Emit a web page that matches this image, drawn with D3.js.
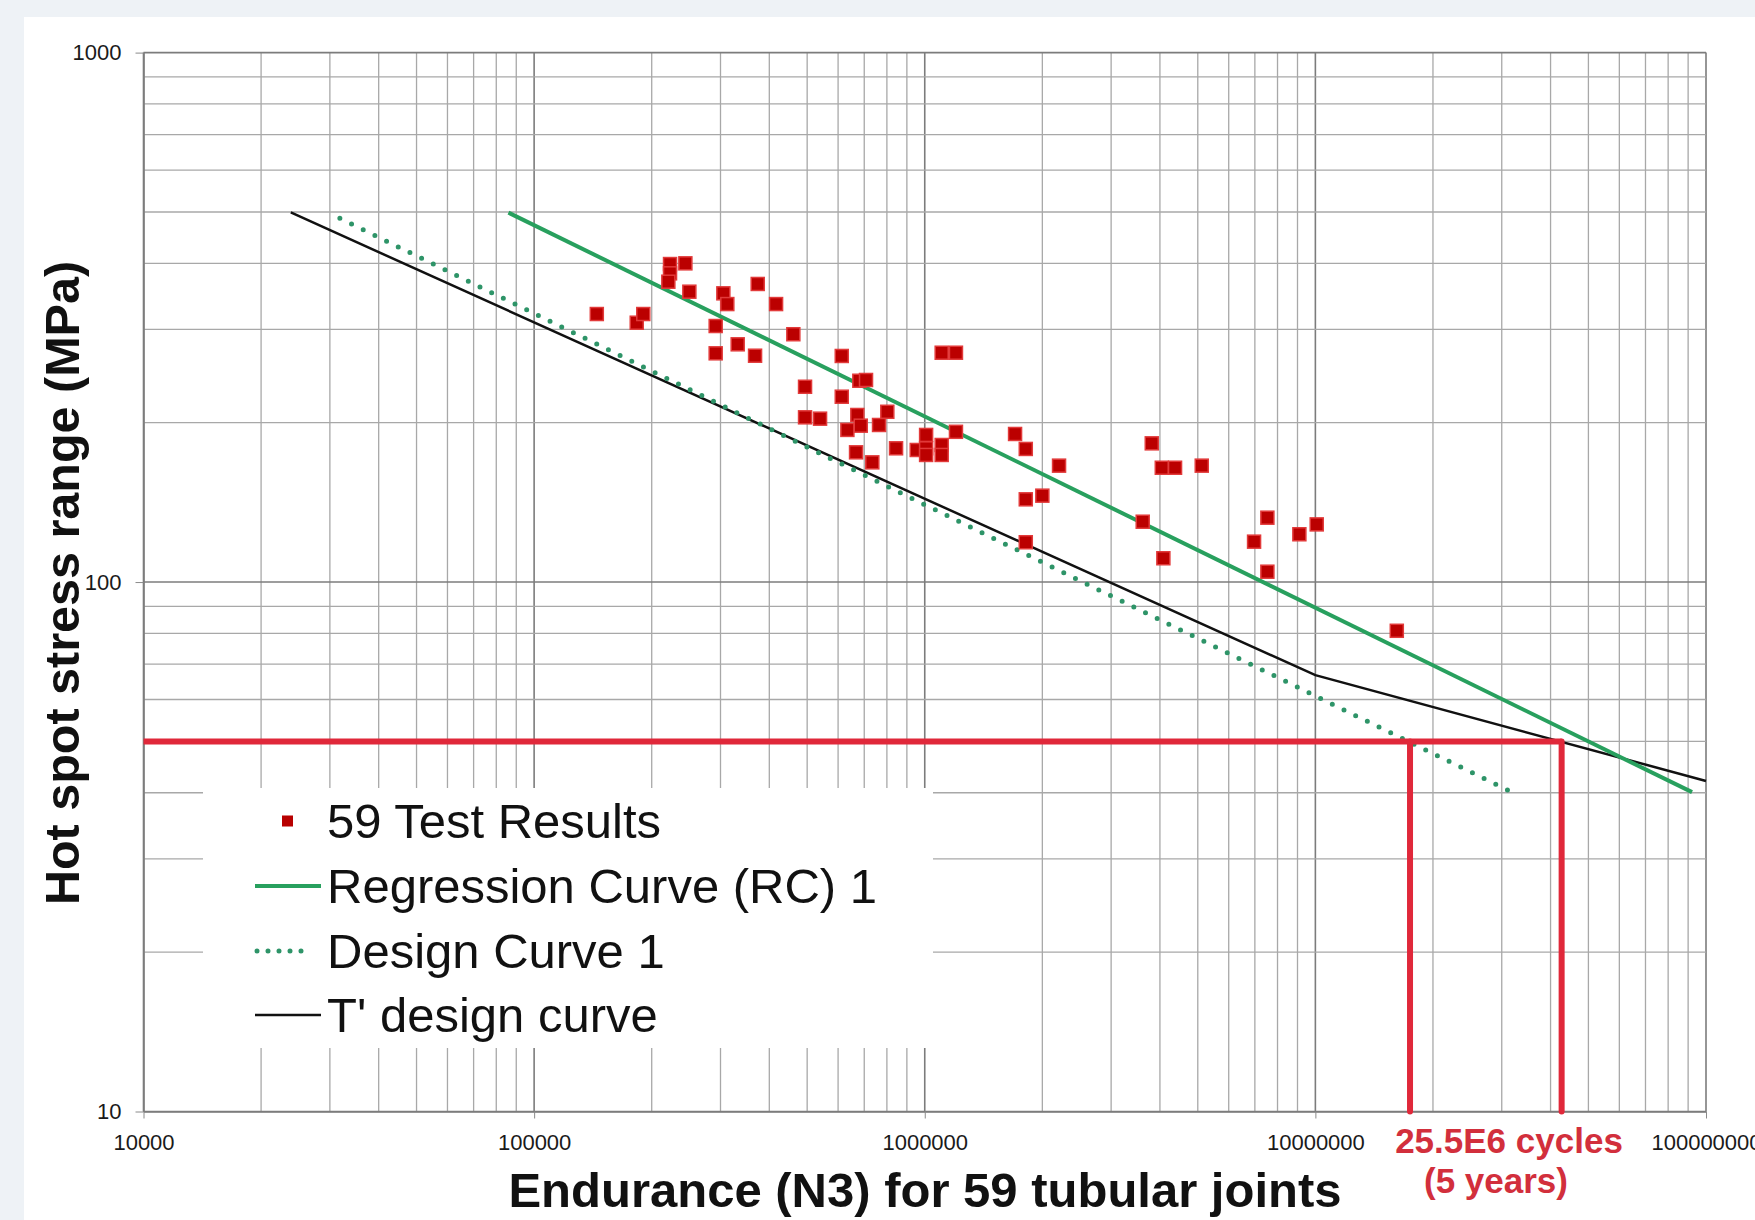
<!DOCTYPE html>
<html>
<head>
<meta charset="utf-8">
<script src="https://cdn.jsdelivr.net/npm/d3@7"></script>
<style>
  body { margin: 0; background: #eef2f6; }
  svg { display: block; }
</style>
</head>
<body>
<svg id="drawing_region"></svg>
<script>
// 59 test results (cycles, MPa)
const cycles = [144700, 183100, 190300, 222800, 222800, 220600, 243900, 249700, 305100, 312300,
    291600, 291600, 332000, 367800, 373600, 416300, 460900, 613100, 493800, 493800,
    539500, 613100, 1105000, 1202000, 680100, 707400, 672100, 685800, 633800, 763800,
    802000, 667000, 734100, 844400, 1008000, 953900, 1008000, 1105000, 1105000, 1202000,
    1703000, 1814000, 2207000, 1814000, 2000000, 1814000, 3812000, 4044000, 4373000, 5118000,
    3614000, 4082000, 7536000, 6967000, 7536000, 9100000, 10080000, 16160000, 1008000];
const stress = [320.8, 308.9, 320.8, 398.7, 382.9, 369.2, 399.9, 353.5, 351.0, 335.0,
    304.5, 270.4, 281.2, 267.6, 365.6, 335.0, 293.8, 267.3, 233.8, 204.7,
    203.5, 223.9, 271.1, 271.1, 240.0, 240.8, 206.8, 197.4, 193.8, 198.0,
    209.7, 175.8, 168.3, 178.9, 189.6, 177.6, 178.9, 181.5, 173.8, 192.2,
    190.4, 178.4, 165.9, 143.3, 145.6, 118.9, 182.8, 164.4, 164.4, 165.9,
    130.0, 110.9, 132.3, 119.2, 104.6, 123.1, 128.5, 80.9, 173.8];

const regressionN = [85950, 92100000];
const regressionS = [498.6, 40.1];
const designN = [31820, 32310000];
const designS = [486.4, 39.9];
const tPrimeN = [23830, 10000000, 100000000];
const tPrimeS = [499, 66.7, 42.1];

const limitStress = 50;
const limitCycles = [17470000, 42700000];

const xTickValues = [1e4, 1e5, 1e6, 1e7, 1e8];
const yTickValues = [10, 100, 1000];
const legendLabels = ['59 Test Results', 'Regression Curve (RC) 1', 'Design Curve 1', "T' design curve"];

class SNChart {

    constructor( config ) {
        this.config = config;
        this.init();
    }

    init() {
        let self = this;
        let c = self.config;

        self.svg = d3.select( c.parent )
            .attr('width', c.width)
            .attr('height', c.height);

        self.svg.append('rect')
            .attr('width', c.width).attr('height', c.height)
            .attr('fill', '#eef2f6');
        self.svg.append('rect')
            .attr('x', 24).attr('y', 17)
            .attr('width', c.width - 24).attr('height', c.height - 17)
            .attr('fill', '#ffffff');

        self.x = d3.scaleLog()
            .domain([1e4, 1e8])
            .range([c.left, c.right]);
        self.y = d3.scaleLog()
            .domain([10, 1000])
            .range([c.bottom, c.top]);

        self.line = d3.line()
            .x(d => self.x(d[0]))
            .y(d => self.y(d[1]));
    }

    render() {
        let self = this;
        let c = self.config;
        let isMajor = v => Math.abs(Math.log10(v) - Math.round(Math.log10(v))) < 1e-9;

        // grid
        let grid = self.svg.append('g');
        grid.selectAll('.vx')
            .data(self.x.ticks())
            .join('line')
            .attr('x1', d => self.x(d)).attr('x2', d => self.x(d))
            .attr('y1', c.top).attr('y2', c.bottom)
            .attr('stroke', d => isMajor(d) ? '#7c7c7c' : '#a8a8a8')
            .attr('stroke-width', d => isMajor(d) ? 1.6 : 1.3);
        grid.selectAll('.hy')
            .data(self.y.ticks())
            .join('line')
            .attr('x1', c.left).attr('x2', c.right)
            .attr('y1', d => self.y(d)).attr('y2', d => self.y(d))
            .attr('stroke', d => isMajor(d) ? '#7c7c7c' : '#a8a8a8')
            .attr('stroke-width', d => isMajor(d) ? 1.6 : 1.3);

        // axes
        let xAxis = self.svg.append('g')
            .attr('transform', `translate(0, ${c.bottom})`)
            .call(d3.axisBottom(self.x).tickValues(xTickValues)
                .tickFormat(d3.format('d')).tickSize(7).tickSizeOuter(0).tickPadding(16));
        let yAxis = self.svg.append('g')
            .attr('transform', `translate(${c.left}, 0)`)
            .call(d3.axisLeft(self.y).tickValues(yTickValues)
                .tickFormat(d3.format('d')).tickSize(8).tickSizeOuter(0).tickPadding(14));
        [xAxis, yAxis].forEach(a => {
            a.select('.domain').attr('stroke', '#7c7c7c').attr('stroke-width', 1.6);
            a.selectAll('.tick line').attr('stroke', '#8a8a8a');
            a.selectAll('.tick text')
                .attr('fill', '#1a1a1a')
                .style('font-family', 'Liberation Sans, Arial, sans-serif')
                .style('font-size', '22px');
        });

        // legend box hides the grid behind it
        self.svg.append('rect')
            .attr('x', 203).attr('y', 788)
            .attr('width', 730).attr('height', 260)
            .attr('fill', '#ffffff');

        // curves
        self.svg.append('path')
            .datum(d3.zip(tPrimeN, tPrimeS))
            .attr('d', self.line)
            .attr('fill', 'none')
            .attr('stroke', '#111111')
            .attr('stroke-width', 2.5);
        self.svg.append('path')
            .datum(d3.zip(designN, designS))
            .attr('d', self.line)
            .attr('fill', 'none')
            .attr('stroke', '#2e9468')
            .attr('stroke-width', 5)
            .attr('stroke-linecap', 'round')
            .attr('stroke-dasharray', '0 13');
        self.svg.append('path')
            .datum(d3.zip(regressionN, regressionS))
            .attr('d', self.line)
            .attr('fill', 'none')
            .attr('stroke', '#28a05e')
            .attr('stroke-width', 4);

        // test results
        self.svg.append('g')
            .selectAll('rect')
            .data(d3.zip(cycles, stress))
            .join('rect')
            .attr('x', d => self.x(d[0]) - 6.5)
            .attr('y', d => self.y(d[1]) - 6.5)
            .attr('width', 13).attr('height', 13)
            .attr('fill', '#bb0000')
            .attr('stroke', '#e23a3a')
            .attr('stroke-width', 1.5);

        // 50 MPa limit lines
        let red = '#e0283a';
        self.svg.append('line')
            .attr('x1', self.x(1e4)).attr('x2', self.x(limitCycles[1]))
            .attr('y1', self.y(limitStress)).attr('y2', self.y(limitStress))
            .attr('stroke', red).attr('stroke-width', 6);
        self.svg.append('g')
            .selectAll('line')
            .data(limitCycles)
            .join('line')
            .attr('x1', d => self.x(d)).attr('x2', d => self.x(d))
            .attr('y1', self.y(limitStress)).attr('y2', self.y(10))
            .attr('stroke', red).attr('stroke-width', 6)
            .attr('stroke-linecap', 'round');

        // legend
        let font = 'Liberation Sans, Arial, sans-serif';
        let rowY = [821, 886, 951, 1015];
        let legend = self.svg.append('g');
        legend.append('rect')
            .attr('x', 282).attr('y', rowY[0] - 5.5)
            .attr('width', 11).attr('height', 11)
            .attr('fill', '#b80000');
        legend.append('line')
            .attr('x1', 255).attr('x2', 321).attr('y1', rowY[1]).attr('y2', rowY[1])
            .attr('stroke', '#28a05e').attr('stroke-width', 4);
        legend.append('line')
            .attr('x1', 257).attr('x2', 312).attr('y1', rowY[2]).attr('y2', rowY[2])
            .attr('stroke', '#2e9468').attr('stroke-width', 5)
            .attr('stroke-linecap', 'round').attr('stroke-dasharray', '0 11');
        legend.append('line')
            .attr('x1', 255).attr('x2', 321).attr('y1', rowY[3]).attr('y2', rowY[3])
            .attr('stroke', '#111111').attr('stroke-width', 2.5);
        legend.selectAll('text')
            .data(legendLabels)
            .join('text')
            .attr('x', 327)
            .attr('y', (d, i) => rowY[i] + 17)
            .attr('fill', '#111111')
            .style('font-family', font)
            .style('font-size', '49px')
            .text(d => d);

        // titles
        self.svg.append('text')
            .attr('transform', 'translate(79, 583) rotate(-90)')
            .attr('text-anchor', 'middle')
            .attr('fill', '#111111')
            .style('font-family', font)
            .style('font-size', '48.5px')
            .style('font-weight', 'bold')
            .text('Hot spot stress range (MPa)');
        self.svg.append('text')
            .attr('x', 925).attr('y', 1207)
            .attr('text-anchor', 'middle')
            .attr('fill', '#111111')
            .style('font-family', font)
            .style('font-size', '49px')
            .style('font-weight', 'bold')
            .text('Endurance (N3) for 59 tubular joints');

        self.svg.append('text')
            .attr('x', 1509).attr('y', 1153)
            .attr('text-anchor', 'middle')
            .attr('fill', '#d22f3c')
            .style('font-family', font)
            .style('font-size', '35px')
            .style('font-weight', 'bold')
            .text('25.5E6 cycles');
        self.svg.append('text')
            .attr('x', 1496).attr('y', 1193)
            .attr('text-anchor', 'middle')
            .attr('fill', '#d22f3c')
            .style('font-family', font)
            .style('font-size', '35px')
            .style('font-weight', 'bold')
            .text('(5 years)');
    }
}

let chart = new SNChart({
    parent: '#drawing_region',
    width: 1755,
    height: 1220,
    left: 143.5,
    right: 1706,
    top: 52.6,
    bottom: 1111.5
});
chart.render();
</script>
</body>
</html>
